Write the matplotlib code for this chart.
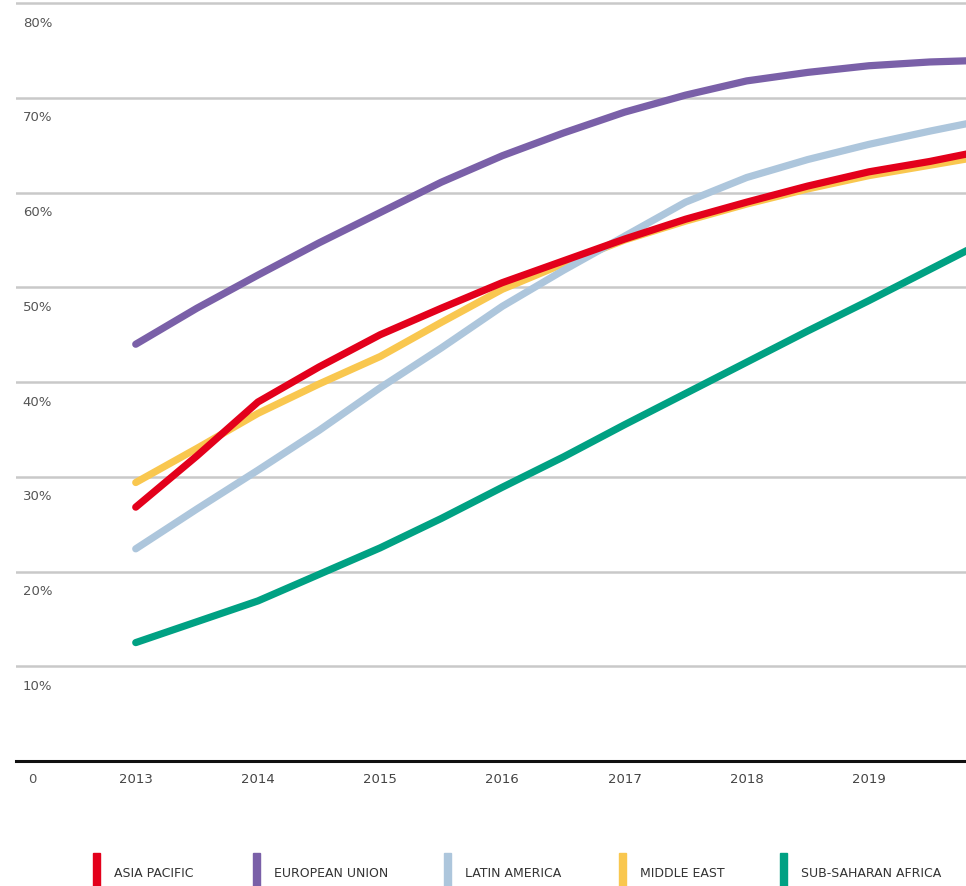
import matplotlib.pyplot as plt
from matplotlib.patches import Rectangle
from matplotlib.transforms import blended_transform_factory

plt.rcParams['font.family'] = ['DejaVu Sans']

# half-year readings, the last point sits just past the visible right edge
years = [2013, 2013.5, 2014, 2014.5, 2015, 2015.5, 2016, 2016.5,
         2017, 2017.5, 2018, 2018.5, 2019, 2019.5, 2020]
asia_pacific = [26.8, 32.2, 37.9, 41.6, 45.0, 47.8, 50.5, 52.8,
                55.1, 57.2, 59.0, 60.7, 62.2, 63.3, 64.6]
european_union = [44.0, 47.8, 51.3, 54.7, 57.9, 61.1, 63.9, 66.3,
                  68.5, 70.3, 71.8, 72.7, 73.4, 73.8, 74.0]
latin_america = [22.4, 26.6, 30.7, 34.9, 39.4, 43.6, 48.0, 51.8,
                 55.4, 59.0, 61.6, 63.5, 65.1, 66.5, 67.8]
middle_east = [29.4, 33.0, 36.7, 39.8, 42.7, 46.3, 49.8, 52.5,
               55.0, 57.0, 58.8, 60.4, 61.8, 62.9, 64.0]
sub_saharan = [12.5, 14.7, 16.9, 19.7, 22.5, 25.6, 28.9, 32.1,
               35.5, 38.8, 42.1, 45.4, 48.6, 51.9, 55.2]

year_labels = [2013, 2014, 2015, 2016, 2017, 2018, 2019]
yticks = [10, 20, 30, 40, 50, 60, 70, 80]

series = [
    ("SUB-SAHARAN AFRICA", sub_saharan, "#00a183"),
    ("MIDDLE EAST", middle_east, "#f9c74f"),
    ("LATIN AMERICA", latin_america, "#adc6dc"),
    ("ASIA PACIFIC", asia_pacific, "#e3001b"),
    ("EUROPEAN UNION", european_union, "#7a60a8"),
]
legend_order = ["ASIA PACIFIC", "EUROPEAN UNION", "LATIN AMERICA", "MIDDLE EAST", "SUB-SAHARAN AFRICA"]

fig = plt.figure(figsize=(9.66, 8.87), dpi=100)
W, H = 966, 887
ax = fig.add_axes([16 / W, (H - 762) / H, (W - 16) / W, 762.5 / H])

ax.set_xlim(2012.02, 2019.795)
ax.set_ylim(0, 80.5)

for v in yticks:
    ax.axhline(v, color="#c9c9c9", lw=1.8, zorder=1)
ax.axhline(0, color="#111111", lw=2.2, zorder=1, clip_on=False)

for name, vals, col in series:
    ax.plot(years, vals, color=col, lw=5.2, solid_capstyle="round",
            solid_joinstyle="round", zorder=3)

trans = blended_transform_factory(ax.transAxes, ax.transData)
for v in yticks:
    ax.text(0.007, v - 2.0, f"{v}%", transform=trans, ha="left", va="center",
            fontsize=9.5, color="#555555")
ax.text(0.013, -1.9, "0", transform=trans, ha="left", va="center",
        fontsize=9.5, color="#555555")
for y in year_labels:
    ax.text(y, -1.9, str(y), ha="center", va="center", fontsize=9.5, color="#444444")

ax.set_xticks([])
ax.set_yticks([])
for s in ax.spines.values():
    s.set_visible(False)

# legend drawn by hand along the bottom
colors = {name: col for name, _, col in series}
legend_x = [93, 253, 444, 619, 780]
for x, name in zip(legend_x, legend_order):
    fig.add_artist(Rectangle((x / W, 0), 6.5 / W, (H - 854) / H,
                             transform=fig.transFigure, color=colors[name]))
    fig.text((x + 21) / W, (H - 874) / H, name, ha="left", va="center",
             fontsize=9, color="#333333")

fig.savefig("out.png", dpi=100)
